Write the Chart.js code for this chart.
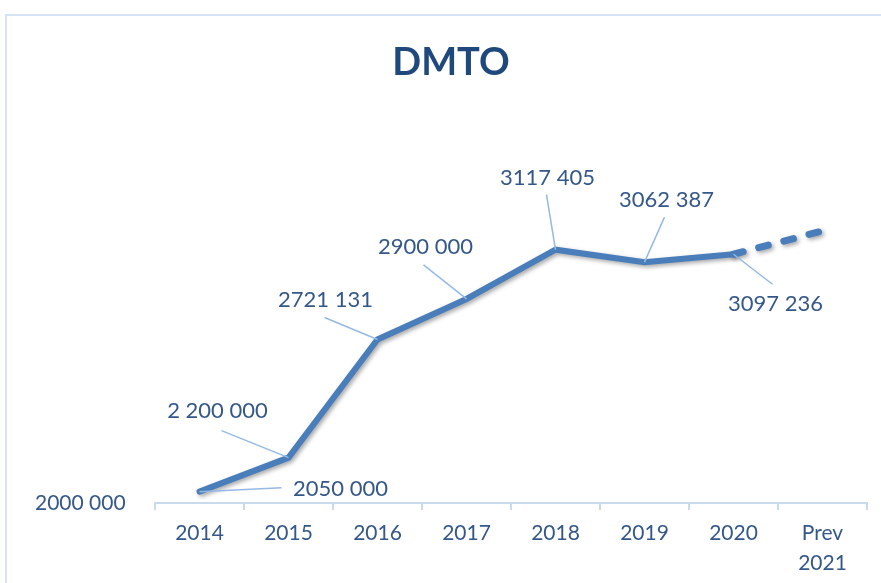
<!DOCTYPE html>
<html lang="pt">
<head>
    <meta charset="UTF-8">
    <title>DMTO</title>
    <script src="https://cdn.jsdelivr.net/npm/chart.js"></script>
    <style>
        html, body { margin: 0; padding: 0; background: #fff; overflow: hidden; }
        .frame {
            position: absolute; left: 5px; top: 14px; width: 900px; height: 600px;
            border: 2px solid #d5e3f4; box-sizing: border-box;
        }
        #dmtoChart { position: absolute; left: 0; top: 0; }
    </style>
</head>
<body>
    <div class="frame"></div>
    <canvas id="dmtoChart" width="881" height="583"></canvas>

    <script>
        // data
        const years = ['2014', '2015', '2016', '2017', '2018', '2019', '2020', ['Prev', '2021']];
        const dmtoValues = [2050000, 2200000, 2721131, 2900000, 3117405, 3062387, 3097236, 3200000];
        const valueLabels = ['2050 000', '2 200 000', '2721 131', '2900 000', '3117 405', '3062 387', '3097 236', null];
        const yTickValues = [2000000];
        const yTickLabels = ['2000 000'];

        // where each label sits relative to its point (text centre + leader line end)
        const labelPlacement = [
            { tx: 141, ty: -3, lx: 82, ly: -4 },
            { tx: -71, ty: -47, lx: -67, ly: -27 },
            { tx: -52, ty: -40, lx: -53, ly: -22 },
            { tx: -41, ty: -52, lx: -43, ly: -34 },
            { tx: -8, ty: -72, lx: -9, ly: -55 },
            { tx: 22, ty: -62, lx: 20, ly: -45 },
            { tx: 42, ty: 50, lx: 39, ly: 30 },
            null
        ];

        const textColor = '#35588a';
        const leaderColor = '#95b9e4';
        const axisColor = '#c9daf0';

        const lineShadow = {
            id: 'lineShadow',
            beforeDatasetDraw(chart) {
                const ctx = chart.ctx;
                ctx.save();
                ctx.shadowColor = 'rgba(0,0,0,0.35)';
                ctx.shadowBlur = 4;
                ctx.shadowOffsetX = 2;
                ctx.shadowOffsetY = 2;
            },
            afterDatasetDraw(chart) {
                chart.ctx.restore();
            }
        };

        const pointLabels = {
            id: 'pointLabels',
            afterDraw(chart) {
                const ctx = chart.ctx;
                const meta = chart.getDatasetMeta(0);
                ctx.save();
                ctx.font = '22px Lato';
                ctx.textAlign = 'center';
                ctx.textBaseline = 'middle';
                meta.data.forEach((pt, i) => {
                    const p = labelPlacement[i];
                    if (!p || !valueLabels[i]) return;
                    ctx.strokeStyle = leaderColor;
                    ctx.lineWidth = 1.5;
                    ctx.beginPath();
                    ctx.moveTo(pt.x, pt.y);
                    ctx.lineTo(pt.x + p.lx, pt.y + p.ly);
                    ctx.stroke();
                    ctx.fillStyle = textColor;
                    ctx.fillText(valueLabels[i], pt.x + p.tx, pt.y + p.ty);
                });
                ctx.restore();
            }
        };

        new Chart(document.getElementById('dmtoChart'), {
            type: 'line',
            data: {
                labels: years,
                datasets: [{
                    label: 'DMTO',
                    data: dmtoValues,
                    borderColor: '#4a7ebb',
                    borderWidth: 6,
                    borderCapStyle: 'round',
                    pointRadius: 0,
                    tension: 0,
                    fill: false,
                    segment: {
                        borderDash: c => c.p0DataIndex === 6 ? [10, 16] : undefined,
                        borderWidth: c => c.p0DataIndex === 6 ? 7 : undefined
                    }
                }]
            },
            options: {
                responsive: false,
                animation: false,
                layout: { padding: { left: 35, right: 14, top: 0, bottom: 0 } },
                plugins: {
                    legend: { display: false },
                    tooltip: { enabled: false },
                    title: {
                        display: true,
                        text: 'DMTO',
                        color: '#1f497d',
                        font: { family: 'Lato', size: 38, weight: 'bold', lineHeight: 1.2 },
                        padding: { top: 40, bottom: 100 }
                    }
                },
                scales: {
                    x: {
                        offset: true,
                        grid: {
                            display: true,
                            offset: true,
                            drawOnChartArea: false,
                            drawTicks: true,
                            tickLength: 7,
                            color: axisColor,
                            lineWidth: 2
                        },
                        border: { display: true, color: axisColor, width: 2 },
                        ticks: {
                            color: textColor,
                            maxRotation: 0,
                            padding: 9,
                            font: { family: 'Lato', size: 21, lineHeight: 1.4 }
                        },
                        afterFit(axis) { axis.height = 80; }
                    },
                    y: {
                        min: 2000000,
                        max: 3400000,
                        grid: { display: false },
                        border: { display: false },
                        afterBuildTicks(axis) {
                            axis.ticks = yTickValues.map(v => ({ value: v }));
                        },
                        ticks: {
                            color: textColor,
                            crossAlign: 'far',
                            padding: 32,
                            font: { family: 'Lato', size: 21 },
                            callback: v => {
                                const k = yTickValues.indexOf(v);
                                return k >= 0 ? yTickLabels[k] : '';
                            }
                        },
                        afterFit(axis) { axis.width = 120; }
                    }
                }
            },
            plugins: [lineShadow, pointLabels]
        });
    </script>
</body>
</html>
